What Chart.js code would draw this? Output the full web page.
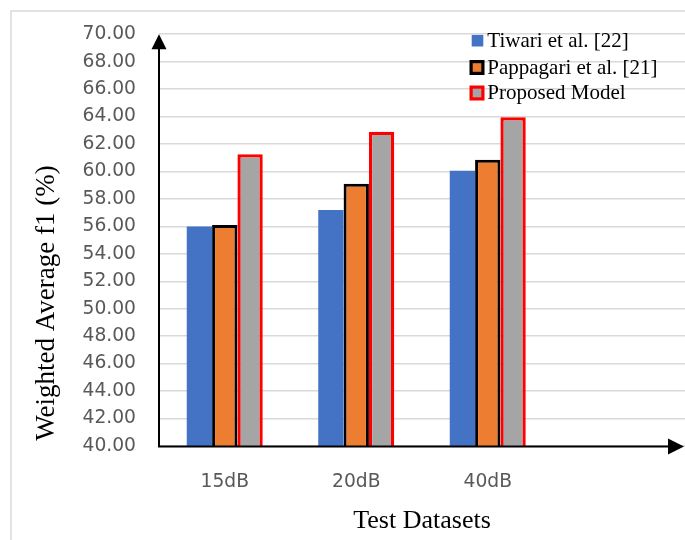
<!DOCTYPE html>
<html>
<head>
<meta charset="utf-8">
<script src="https://cdn.jsdelivr.net/npm/chart.js@4/dist/chart.umd.min.js"></script>
<style>
  html, body { margin: 0; padding: 0; background: #ffffff; overflow: hidden; }
  #wrap { width: 685px; height: 540px; position: relative; }
</style>
</head>
<body>
<div id="wrap"><canvas id="c" width="685" height="540"></canvas></div>
<script>
// ---- data ----
const categories = ['15dB', '20dB', '40dB', ''];
const seriesNames = ['Tiwari et al. [22]', 'Pappagari et al. [21]', 'Proposed Model'];
const tiwari    = [56.0, 57.2, 60.05, null];
const pappagari = [56.1, 59.1, 60.85, null];
const proposed  = [61.25, 62.9, 63.95, null];
const yMin = 40, yMax = 70, yStep = 2;
const xTitle = 'Test Datasets';
const yTitle = 'Weighted Average f1 (%)';

const decor = {
  id: 'decor',
  beforeDraw(chart) {
    const ctx = chart.ctx;
    ctx.save();
    ctx.fillStyle = '#ffffff';
    ctx.fillRect(0, 0, chart.width, chart.height);
    ctx.strokeStyle = '#d9d9d9';
    ctx.lineWidth = 1.5;
    ctx.strokeRect(11, 11, chart.width + 20, chart.height + 20);
    ctx.restore();
  },
  afterDraw(chart) {
    const ctx = chart.ctx;
    const a = chart.chartArea;
    const x0 = a.left, y0 = chart.scales.y.getPixelForValue(yMin);
    const yTop = chart.scales.y.getPixelForValue(yMax);
    ctx.save();
    ctx.strokeStyle = '#000';
    ctx.fillStyle = '#000';
    ctx.lineWidth = 2;
    // y axis with arrow
    ctx.beginPath();
    ctx.moveTo(x0, y0 + 1);
    ctx.lineTo(x0, yTop + 14);
    ctx.stroke();
    ctx.beginPath();
    ctx.moveTo(x0, yTop);
    ctx.lineTo(x0 - 7.5, yTop + 15);
    ctx.lineTo(x0 + 7.5, yTop + 15);
    ctx.closePath();
    ctx.fill();
    // x axis with arrow
    const xEnd = a.right - 1;
    ctx.beginPath();
    ctx.moveTo(x0 - 1, y0 + 0.5);
    ctx.lineTo(xEnd - 15, y0 + 0.5);
    ctx.stroke();
    ctx.beginPath();
    ctx.moveTo(xEnd, y0 + 0.5);
    ctx.lineTo(xEnd - 16, y0 + 0.5 - 8);
    ctx.lineTo(xEnd - 16, y0 + 0.5 + 8);
    ctx.closePath();
    ctx.fill();

    // axis titles
    ctx.fillStyle = '#000';
    ctx.font = '26px "Liberation Serif", "Times New Roman", serif';
    ctx.textAlign = 'center';
    ctx.textBaseline = 'alphabetic';
    ctx.fillText(xTitle, (a.left + a.right) / 2, 528);
    ctx.save();
    ctx.translate(54, 303);
    ctx.rotate(-Math.PI / 2);
    ctx.font = '27px "Liberation Serif", "Times New Roman", serif';
    ctx.fillText(yTitle, 0, 0);
    ctx.restore();

    // legend
    const ds = chart.data.datasets;
    const baselines = [46.7, 73.5, 99];
    ctx.font = '21px "Liberation Serif", "Times New Roman", serif';
    ctx.textAlign = 'left';
    ctx.textBaseline = 'alphabetic';
    ds.forEach((d, i) => {
      const cy = baselines[i] - 6;
      const cx = 477;
      if (d.borderWidth > 0) {
        const s = 15;
        ctx.fillStyle = d.borderColor;
        ctx.fillRect(cx - s / 2, cy - s / 2, s, s);
        const inner = s - 2 * 3.2;
        ctx.fillStyle = d.backgroundColor;
        ctx.fillRect(cx - inner / 2, cy - inner / 2, inner, inner);
      } else {
        const s = 11.6;
        ctx.fillStyle = d.backgroundColor;
        ctx.fillRect(cx - s / 2 + 0.5, cy - s / 2, s, s);
      }
      ctx.fillStyle = '#000';
      ctx.fillText(d.label, 487.3, baselines[i]);
    });
    ctx.restore();
  }
};

new Chart(document.getElementById('c'), {
  type: 'bar',
  data: {
    labels: categories,
    datasets: [
      { label: seriesNames[0], data: tiwari, backgroundColor: '#4472C4', borderWidth: 0 },
      { label: seriesNames[1], data: pappagari, backgroundColor: '#ED7D31', borderColor: '#000000', borderWidth: 3, borderSkipped: false },
      { label: seriesNames[2], data: proposed, backgroundColor: '#A5A5A5', borderColor: '#FF0000', borderWidth: 3.3, borderSkipped: false }
    ]
  },
  options: {
    responsive: false,
    animation: false,
    events: [],
    layout: { padding: { top: 32, left: 0, right: 0, bottom: 0 } },
    datasets: { bar: { categoryPercentage: 0.578, barPercentage: 1.0 } },
    plugins: { legend: { display: false }, tooltip: { enabled: false }, title: { display: false } },
    scales: {
      x: {
        grid: { display: false, drawTicks: false },
        border: { display: false },
        ticks: { color: '#595959', font: { family: '"DejaVu Sans"', size: 18.7 }, padding: 25, maxRotation: 0, autoSkip: false },
        afterFit(s) { s.height = 94; }
      },
      y: {
        min: yMin, max: yMax,
        grid: { color: '#d9d9d9', lineWidth: 1.5, drawTicks: false },
        border: { display: false },
        ticks: { stepSize: yStep, color: '#595959', font: { family: '"DejaVu Sans"', size: 18.7 }, padding: 23,
                 callback: v => Number(v).toFixed(2) },
        afterFit(s) { s.width = 159; }
      }
    }
  },
  plugins: [decor]
});
</script>
</body>
</html>
